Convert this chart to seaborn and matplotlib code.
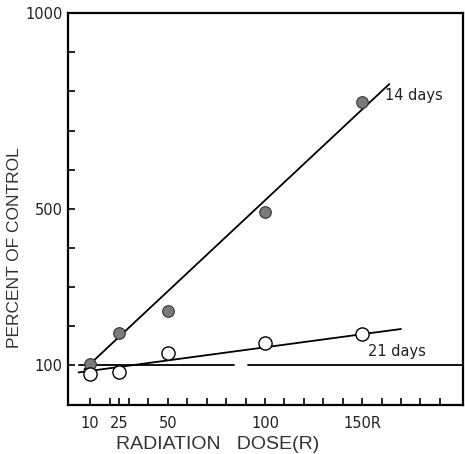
import matplotlib
matplotlib.use("Agg")
import matplotlib.pyplot as plt
import seaborn as sns
import pandas as pd

# Measured responses
dose = [10, 25, 50, 100, 150]
pct_14d = [104, 183, 240, 492, 774]
pct_21d = [79, 83, 132, 158, 180]

# Fitted trend lines (end points)
fit14_x = [7, 164]
fit14_y = [90, 819]
fit21_x = [4, 170]
fit21_y = [82, 193]

# Control level (drawn in two pieces)
ctrl_x1 = [4, 84]
ctrl_x2 = [91, 202]
ctrl_level = 100

yticks_major = [100, 500, 1000]
xtick_labels = ["10", "25", "50", "100", "150R"]

sns.set_theme(style="white")
plt.rcParams["font.family"] = ["DejaVu Sans"]

fig = plt.figure(figsize=(4.65, 4.54), dpi=100)
ax = fig.add_axes([0.146, 0.109, 0.85, 0.862])

df14 = pd.DataFrame({"dose": dose, "pct": pct_14d})
df21 = pd.DataFrame({"dose": dose, "pct": pct_21d})

lw = 1.3
sns.lineplot(x=fit14_x, y=fit14_y, ax=ax, color="black", lw=lw)
sns.lineplot(x=fit21_x, y=fit21_y, ax=ax, color="black", lw=lw)
sns.lineplot(x=ctrl_x1, y=[ctrl_level] * 2, ax=ax, color="black", lw=lw)
sns.lineplot(x=ctrl_x2, y=[ctrl_level] * 2, ax=ax, color="black", lw=lw)

sns.scatterplot(data=df14, x="dose", y="pct", ax=ax, s=70, color="#7a7a7a",
                edgecolor="#333333", linewidth=0.8, zorder=5)
sns.scatterplot(data=df21, x="dose", y="pct", ax=ax, s=90, color="white",
                edgecolor="black", linewidth=1.0, zorder=5)

ax.set_xlim(-1.5, 202)
ax.set_ylim(0, 1000)

ax.set_yticks(yticks_major)
ax.set_yticklabels([str(v) for v in yticks_major], fontsize=10.5)
ax.set_yticks(range(0, 1001, 100), minor=True)
ax.set_xticks(dose)
ax.set_xticklabels(xtick_labels, fontsize=10.5)
ax.set_xticks(range(10, 200, 10), minor=True)

ax.tick_params(axis="both", which="both", direction="in", length=5, width=1.2,
               color="black", labelcolor="#222222")
ax.tick_params(axis="x", which="both", bottom=True, pad=8)
ax.tick_params(axis="y", which="both", left=True, pad=4)

for sp in ax.spines.values():
    sp.set_visible(True)
    sp.set_color("black")
    sp.set_linewidth(1.6)

ax.set_xlabel("RADIATION   DOSE(R)", fontsize=14, color="#333333",
              fontfamily="Liberation Sans")
ax.set_ylabel("PERCENT OF CONTROL", fontsize=12.5, color="#333333",
              fontfamily="Liberation Sans")
ax.xaxis.set_label_coords(0.378, -0.081)
ax.yaxis.set_label_coords(-0.116, 0.40)

ax.text(162, 790, "14 days", fontsize=10.5, color="#222222", va="center", ha="left")
ax.text(153, 135, "21 days", fontsize=10.5, color="#222222", va="center", ha="left")

fig.savefig("out.png", dpi=100)
